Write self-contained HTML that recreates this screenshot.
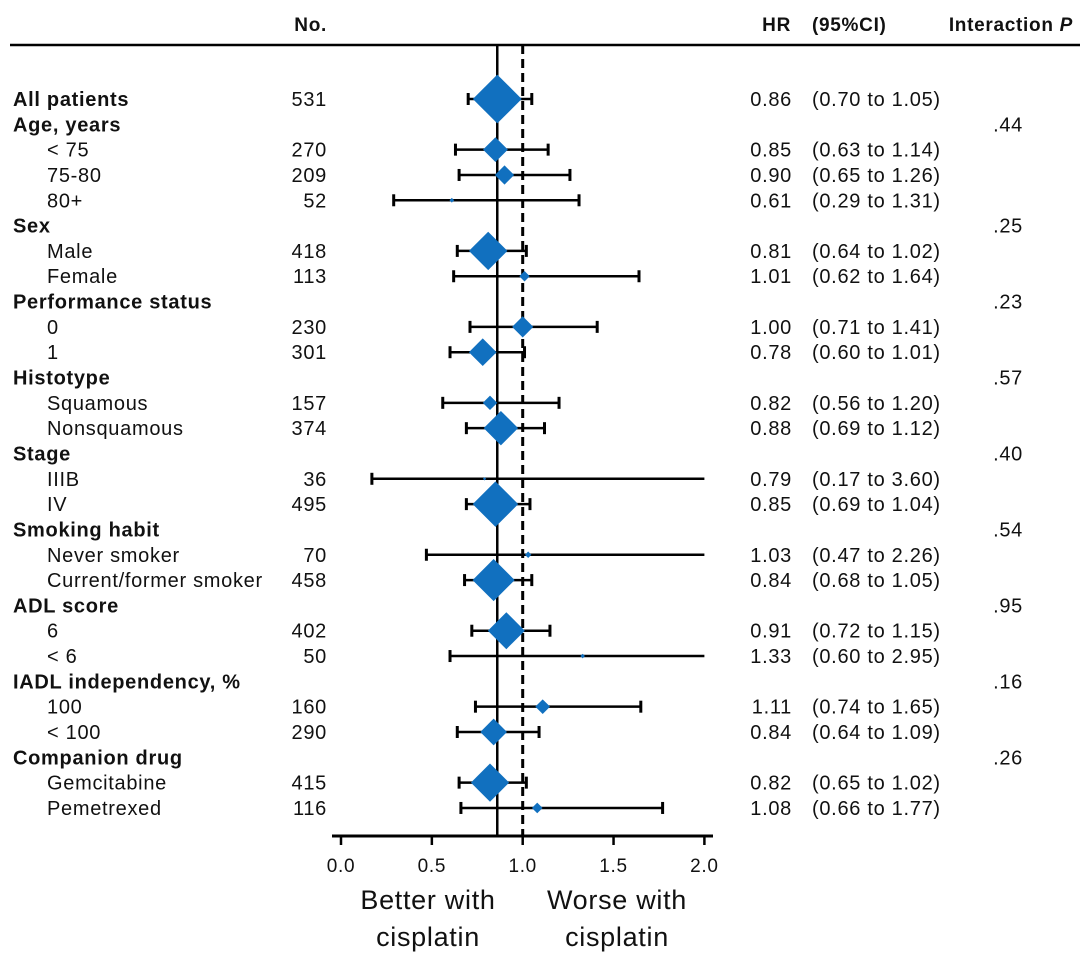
<!DOCTYPE html>
<html><head><meta charset="utf-8"><style>
html,body{margin:0;padding:0;background:#fff;}
svg{display:block;font-family:"Liberation Sans",Arial,sans-serif;}
svg text{letter-spacing:0.7px;}
</style></head><body>
<svg id="chart" width="1080" height="957" viewBox="0 0 1080 957" xmlns="http://www.w3.org/2000/svg">
<g font-size="19" font-weight="bold" fill="#111">
<text x="327" y="31" text-anchor="end">No.</text>
<text x="791" y="31" text-anchor="end">HR</text>
<text x="812" y="31">(95%CI)</text>
<text x="1073" y="31" text-anchor="end">Interaction <tspan font-style="italic">P</tspan></text>
</g>
<line x1="10" y1="45" x2="1080" y2="45" stroke="#000" stroke-width="2.5"/>
<g id="rows"></g>
<g id="axis"></g>
<g font-size="27" fill="#111" text-anchor="middle">
<text x="428" y="909">Better with</text>
<text x="428" y="946">cisplatin</text>
<text x="617" y="909">Worse with</text>
<text x="617" y="946">cisplatin</text>
</g>
</svg>
<script>
const labels=["All patients","Age, years","< 75","75-80","80+","Sex","Male","Female","Performance status","0","1","Histotype","Squamous","Nonsquamous","Stage","IIIB","IV","Smoking habit","Never smoker","Current/former smoker","ADL score","6","< 6","IADL independency, %","100","< 100","Companion drug","Gemcitabine","Pemetrexed"];
const kinds=["T","H","S","S","S","H","S","S","H","S","S","H","S","S","H","S","S","H","S","S","H","S","S","H","S","S","H","S","S"];
const counts=[531,null,270,209,52,null,418,113,null,230,301,null,157,374,null,36,495,null,70,458,null,402,50,null,160,290,null,415,116];
const hr=[0.86,null,0.85,0.90,0.61,null,0.81,1.01,null,1.00,0.78,null,0.82,0.88,null,0.79,0.85,null,1.03,0.84,null,0.91,1.33,null,1.11,0.84,null,0.82,1.08];
const lo=[0.70,null,0.63,0.65,0.29,null,0.64,0.62,null,0.71,0.60,null,0.56,0.69,null,0.17,0.69,null,0.47,0.68,null,0.72,0.60,null,0.74,0.64,null,0.65,0.66];
const hi=[1.05,null,1.14,1.26,1.31,null,1.02,1.64,null,1.41,1.01,null,1.20,1.12,null,3.60,1.04,null,2.26,1.05,null,1.15,2.95,null,1.65,1.09,null,1.02,1.77];
const pvals=[null,".44",null,null,null,".25",null,null,".23",null,null,".57",null,null,".40",null,null,".54",null,null,".95",null,null,".16",null,null,".26",null,null];
const ticks=[0.0,0.5,1.0,1.5,2.0];
const tickLabels=["0.0","0.5","1.0","1.5","2.0"];
const overallHR=0.86, nullHR=1.0;

const NS="http://www.w3.org/2000/svg";
const X0=341, XU=181.7, XMAX=2.0;
const xs=v=>X0+Math.min(v,XMAX)*XU;
const ys=i=>99+i*25.32;
const FS=20;
function mk(tag,attrs,parent,txt){const e=document.createElementNS(NS,tag);for(const k in attrs)e.setAttribute(k,attrs[k]);if(txt!=null)e.textContent=txt;parent.appendChild(e);return e;}
const rows=document.getElementById('rows'), axis=document.getElementById('axis');
const axisY=836;
let l=mk('line',{x1:xs(overallHR),x2:xs(overallHR),y1:45,y2:axisY,stroke:'#000','stroke-width':2.5},rows);


l=mk('line',{x1:xs(nullHR),x2:xs(nullHR),y1:45,y2:axisY,stroke:'#000','stroke-width':3,'stroke-dasharray':'9,5'},rows);


labels.forEach((lab,i)=>{
  const y=ys(i), ty=y+7;
  const g=mk('g',{},rows);
  
  
  const bold=kinds[i]!=="S";
  const t=mk('text',{x:bold?13:47,y:ty,'font-size':FS,'font-weight':bold?'bold':'normal',fill:'#111'},g,lab);
  
  
  if(pvals[i]){const p=mk('text',{x:1023,y:ty,'font-size':FS,'text-anchor':'end',fill:'#111'},g,pvals[i]);
    
    }
  if(counts[i]==null)return;
  const n=mk('text',{x:327,y:ty,'font-size':FS,'text-anchor':'end',fill:'#111'},g,String(counts[i]));
  
  
  const h=mk('text',{x:792,y:ty,'font-size':FS,'text-anchor':'end',fill:'#111'},g,hr[i].toFixed(2));
  
  
  const c=mk('text',{x:812,y:ty,'font-size':FS,fill:'#111'},g,'('+lo[i].toFixed(2)+' to '+hi[i].toFixed(2)+')');
  
  
  const x1=xs(lo[i]), x2=xs(hi[i]);
  const ci=mk('line',{x1:x1,x2:x2,y1:y,y2:y,stroke:'#000','stroke-width':2.5},g);
  
  
  const cap1=mk('line',{x1:x1,x2:x1,y1:y-6,y2:y+6,stroke:'#000','stroke-width':3},g);
  
  
  if(hi[i]<=XMAX){const cap2=mk('line',{x1:x2,x2:x2,y1:y-6,y2:y+6,stroke:'#000','stroke-width':3},g);
    
    }
  const r=Math.max(1.5,counts[i]*0.046), cx=xs(hr[i]);
  const d=mk('polygon',{points:`${cx-r},${y} ${cx},${y-r} ${cx+r},${y} ${cx},${y+r}`,fill:'#1170bf'},g);
  
  
});
const al=mk('line',{x1:332,x2:713,y1:axisY,y2:axisY,stroke:'#000','stroke-width':3},axis);


ticks.forEach((v,k)=>{
  const tk=mk('line',{x1:xs(v),x2:xs(v),y1:axisY,y2:axisY+9,stroke:'#000','stroke-width':2.5},axis);
  
  
  const tl=mk('text',{x:xs(v),y:872,'font-size':19,'text-anchor':'middle',fill:'#111'},axis,tickLabels[k]);
  
  
});
</script>
</body></html>
